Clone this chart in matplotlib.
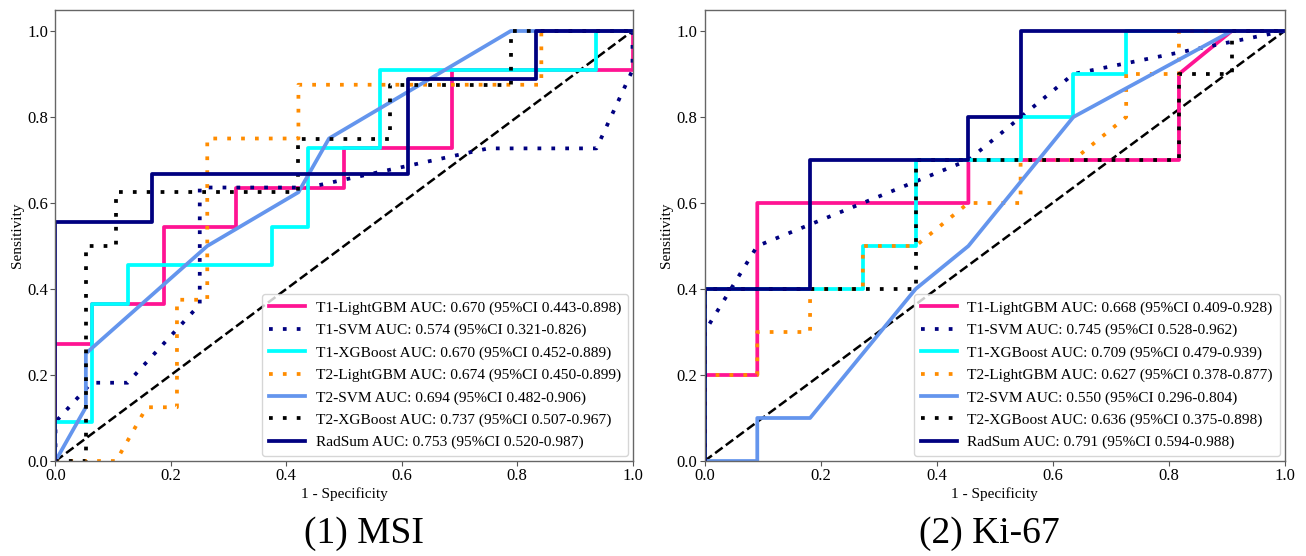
import matplotlib
matplotlib.use("Agg")
import matplotlib.pyplot as plt

plt.rcParams["font.family"] = ["Liberation Serif", "DejaVu Serif"]

# ── series names / colours / styles ─────────────────────────────────────────
NAMES = ["T1-LightGBM", "T1-SVM", "T1-XGBoost", "T2-LightGBM",
         "T2-SVM", "T2-XGBoost", "RadSum"]
COLORS = ["#ff1493", "#000080", "#00ffff", "#ff8c00",
          "#6495ed", "#000000", "#000080"]
DOTTED = [False, True, False, True, False, True, False]

# ── (1) MSI : ROC points (fpr, tpr) ─────────────────────────────────────────
msi_auc = ["0.670 (95%CI 0.443-0.898)", "0.574 (95%CI 0.321-0.826)",
           "0.670 (95%CI 0.452-0.889)", "0.674 (95%CI 0.450-0.899)",
           "0.694 (95%CI 0.482-0.906)", "0.737 (95%CI 0.507-0.967)",
           "0.753 (95%CI 0.520-0.987)"]

msi_t1_lgbm_x = [0, 0, 0.0625, 0.0625, 0.1875, 0.1875, 0.3125, 0.3125, 0.5, 0.5, 0.6875, 0.6875, 1.0, 1.0]
msi_t1_lgbm_y = [0, 0.273, 0.273, 0.364, 0.364, 0.545, 0.545, 0.636, 0.636, 0.727, 0.727, 0.909, 0.909, 1.0]

msi_t1_svm_x = [0, 0, 0.0625, 0.125, 0.25, 0.25, 0.4375, 0.75, 0.9375, 1.0, 1.0]
msi_t1_svm_y = [0, 0.091, 0.182, 0.182, 0.364, 0.636, 0.636, 0.727, 0.727, 0.909, 1.0]

msi_t1_xgb_x = [0, 0, 0.0625, 0.0625, 0.125, 0.125, 0.375, 0.375, 0.4375, 0.4375, 0.5625, 0.5625, 0.9375, 0.9375, 1.0]
msi_t1_xgb_y = [0, 0.091, 0.091, 0.364, 0.364, 0.455, 0.455, 0.545, 0.545, 0.727, 0.727, 0.909, 0.909, 1.0, 1.0]

msi_t2_lgbm_x = [0, 0.105, 0.158, 0.2105, 0.2105, 0.263, 0.263, 0.421, 0.421, 0.842, 0.842, 1.0]
msi_t2_lgbm_y = [0, 0, 0.125, 0.125, 0.375, 0.375, 0.75, 0.75, 0.875, 0.875, 1.0, 1.0]

msi_t2_svm_x = [0, 0.0526, 0.0526, 0.263, 0.421, 0.474, 0.789, 1.0]
msi_t2_svm_y = [0, 0.125, 0.25, 0.5, 0.625, 0.75, 1.0, 1.0]

msi_t2_xgb_x = [0, 0.0526, 0.0526, 0.105, 0.105, 0.421, 0.421, 0.579, 0.579, 0.789, 0.789, 1.0]
msi_t2_xgb_y = [0, 0, 0.5, 0.5, 0.625, 0.625, 0.75, 0.75, 0.875, 0.875, 1.0, 1.0]

msi_radsum_x = [0, 0, 0.167, 0.167, 0.611, 0.611, 0.833, 0.833, 1.0]
msi_radsum_y = [0, 0.556, 0.556, 0.667, 0.667, 0.889, 0.889, 1.0, 1.0]

# ── (2) Ki-67 ───────────────────────────────────────────────────────────────
ki_auc = ["0.668 (95%CI 0.409-0.928)", "0.745 (95%CI 0.528-0.962)",
          "0.709 (95%CI 0.479-0.939)", "0.627 (95%CI 0.378-0.877)",
          "0.550 (95%CI 0.296-0.804)", "0.636 (95%CI 0.375-0.898)",
          "0.791 (95%CI 0.594-0.988)"]

ki_t1_lgbm_x = [0, 0, 0.091, 0.091, 0.455, 0.455, 0.818, 0.818, 0.909, 1.0]
ki_t1_lgbm_y = [0, 0.2, 0.2, 0.6, 0.6, 0.7, 0.7, 0.9, 1.0, 1.0]

ki_t1_svm_x = [0, 0, 0.091, 0.455, 0.636, 1.0]
ki_t1_svm_y = [0, 0.3, 0.5, 0.7, 0.9, 1.0]

ki_t1_xgb_x = [0, 0, 0.273, 0.273, 0.364, 0.364, 0.545, 0.545, 0.636, 0.636, 0.727, 0.727, 1.0]
ki_t1_xgb_y = [0, 0.4, 0.4, 0.5, 0.5, 0.7, 0.7, 0.8, 0.8, 0.9, 0.9, 1.0, 1.0]

ki_t2_lgbm_x = [0, 0, 0.091, 0.091, 0.182, 0.182, 0.273, 0.273, 0.364, 0.455, 0.545, 0.545,
                0.636, 0.727, 0.727, 0.818, 0.818, 1.0]
ki_t2_lgbm_y = [0, 0.2, 0.2, 0.3, 0.3, 0.4, 0.4, 0.5, 0.5, 0.6, 0.6, 0.7,
                0.7, 0.8, 0.9, 0.9, 1.0, 1.0]

ki_t2_svm_x = [0, 0.091, 0.091, 0.182, 0.364, 0.455, 0.636, 0.909, 1.0]
ki_t2_svm_y = [0, 0, 0.1, 0.1, 0.4, 0.5, 0.8, 1.0, 1.0]

ki_t2_xgb_x = [0, 0, 0.364, 0.364, 0.818, 0.818, 0.909, 0.909, 1.0]
ki_t2_xgb_y = [0, 0.4, 0.4, 0.7, 0.7, 0.9, 0.9, 1.0, 1.0]

ki_radsum_x = [0, 0, 0.182, 0.182, 0.455, 0.455, 0.545, 0.545, 1.0]
ki_radsum_y = [0, 0.4, 0.4, 0.7, 0.7, 0.8, 0.8, 1.0, 1.0]

TICKS = [0.0, 0.2, 0.4, 0.6, 0.8, 1.0]


def draw_panel(ax, curves, aucs):
    ax.plot([0, 1], [0, 1], color="black", linestyle="--", lw=1.8, zorder=1)
    for (xs, ys), name, col, dot, auc in zip(curves, NAMES, COLORS, DOTTED, aucs):
        ls = (0, (1, 2.7)) if dot else "-"
        ax.plot(xs, ys, color=col, lw=2.7, linestyle=ls,
                label=f"{name} AUC: {auc}", zorder=2)
    ax.set_xlim(0, 1)
    ax.set_ylim(0, 1.05)
    ax.set_xticks(TICKS)
    ax.set_yticks(TICKS)
    ax.set_xticklabels([f"{t:.1f}" for t in TICKS], fontsize=12)
    ax.set_yticklabels([f"{t:.1f}" for t in TICKS], fontsize=12)
    ax.tick_params(length=3.5, width=0.8, pad=1.5, color="#555555")
    for sp in ax.spines.values():
        sp.set_color("#666666")
        sp.set_linewidth(1.0)
    ax.set_xlabel("1 - Specificity", fontsize=11, labelpad=2)
    ax.set_ylabel("Sensitivity", fontsize=11, labelpad=3)
    ax.legend(loc="lower right", fontsize=11.1, handlelength=2.3,
              handletextpad=0.7, borderpad=0.45, labelspacing=0.55,
              borderaxespad=0.3)


fig = plt.figure(figsize=(13.06, 5.56), dpi=100)
ax1 = fig.add_axes([55.5 / 1306, 95 / 556, 577 / 1306, 451.5 / 556])
ax2 = fig.add_axes([704.5 / 1306, 95 / 556, 580 / 1306, 451.5 / 556])

msi_curves = [(msi_t1_lgbm_x, msi_t1_lgbm_y), (msi_t1_svm_x, msi_t1_svm_y),
              (msi_t1_xgb_x, msi_t1_xgb_y), (msi_t2_lgbm_x, msi_t2_lgbm_y),
              (msi_t2_svm_x, msi_t2_svm_y), (msi_t2_xgb_x, msi_t2_xgb_y),
              (msi_radsum_x, msi_radsum_y)]
ki_curves = [(ki_t1_lgbm_x, ki_t1_lgbm_y), (ki_t1_svm_x, ki_t1_svm_y),
             (ki_t1_xgb_x, ki_t1_xgb_y), (ki_t2_lgbm_x, ki_t2_lgbm_y),
             (ki_t2_svm_x, ki_t2_svm_y), (ki_t2_xgb_x, ki_t2_xgb_y),
             (ki_radsum_x, ki_radsum_y)]

draw_panel(ax1, msi_curves, msi_auc)
draw_panel(ax2, ki_curves, ki_auc)

fig.text(364 / 1306, 1 - 534 / 556, "(1) MSI", fontsize=27, ha="center", va="center")
fig.text(989 / 1306, 1 - 534 / 556, "(2) Ki-67", fontsize=27, ha="center", va="center")

fig.savefig("out.png", dpi=100)
